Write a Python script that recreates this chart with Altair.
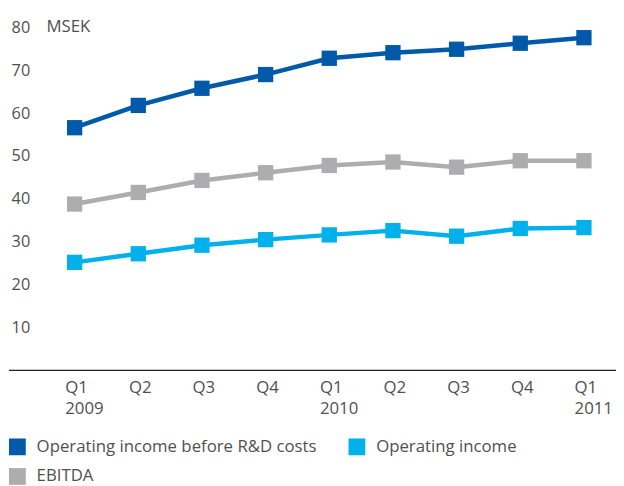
import altair as alt
import pandas as pd

periods = ["Q1 2009", "Q2 2009", "Q3 2009", "Q4 2009",
           "Q1 2010", "Q2 2010", "Q3 2010", "Q4 2010", "Q1 2011"]
op_before_rd = [56.6, 61.8, 65.8, 69.0, 72.8, 74.1, 74.9, 76.3, 77.6]
ebitda = [38.8, 41.5, 44.3, 46.1, 47.8, 48.6, 47.4, 48.9, 48.9]
op_income = [25.2, 27.2, 29.2, 30.5, 31.6, 32.6, 31.3, 33.1, 33.3]

# legend fills column-major: this order gives row 1 = R&D, Operating income; row 2 = EBITDA
series_names = ["Operating income before R&D costs", "EBITDA", "Operating income"]
series_colors = ["#0059a9", "#adadb0", "#00b1eb"]
y_ticks = [10, 20, 30, 40, 50, 60, 70, 80]

rows = []
for name, vals in zip(series_names, [op_before_rd, ebitda, op_income]):
    for p, v in zip(periods, vals):
        rows.append({"period": p, "series": name, "value": v})
df = pd.DataFrame(rows)

FONT = "Open Sans"
TXT = "#505050"
FS = 17

x_enc = alt.X(
    "period:O", sort=periods,
    scale=alt.Scale(type="point", range=[67.5, 583.5], padding=0),
    axis=alt.Axis(
        title=None, ticks=False, domain=False,
        labelAngle=0, labelAlign="left", labelOffset=-10, labelBaseline="top",
        labelPadding=9, labelFontSize=FS, labelFont=FONT, labelColor=TXT,
        labelLineHeight=22, labelOverlap=False, labelBound=False,
        labelExpr="indexof(datum.value, 'Q1') == 0 ? split(datum.value, ' ') : slice(datum.value, 0, 2)",
    ),
)
y_enc = alt.Y(
    "value:Q",
    scale=alt.Scale(domain=[0, 83.8], nice=False, zero=True),
    axis=alt.Axis(
        title=None, values=y_ticks, ticks=False, domain=False, grid=False,
        offset=-24, labelPadding=2, labelAlign="right",
        labelFontSize=16.5, labelFont=FONT, labelColor=TXT,
    ),
)
color_enc = alt.Color(
    "series:N", sort=series_names,
    scale=alt.Scale(domain=series_names, range=series_colors),
    legend=alt.Legend(
        title=None, orient="none", legendX=1, legendY=433, columns=2,
        columnPadding=32, rowPadding=12, symbolType="square", symbolSize=289,
        symbolStrokeWidth=0, labelFontSize=FS, labelFont=FONT, labelColor=TXT,
        labelOffset=11, labelLimit=400,
    ),
)

baseline = alt.Chart(pd.DataFrame({"v": [0]})).mark_rule(
    color="#222222", strokeWidth=1.5
).encode(y=alt.Y("v:Q"), x=alt.value(1), x2=alt.value(616))

lines = alt.Chart(df).mark_line(
    strokeWidth=4.5,
    point=alt.OverlayMarkDef(shape="square", size=240, filled=True, opacity=1),
).encode(x=x_enc, y=y_enc, color=color_enc)

unit = alt.Chart(pd.DataFrame({"label": ["MSEK"], "v": [80]})).mark_text(
    align="left", baseline="middle", fontSize=FS, font=FONT, color=TXT
).encode(x=alt.value(39), y=alt.Y("v:Q"), text="label:N")

chart = alt.layer(lines, baseline, unit).properties(
    width=616, height=364,
    autosize=alt.AutoSizeParams(type="none"),
    padding={"left": 0, "top": 0, "right": 0, "bottom": 114},
).configure_view(stroke=None)

chart.save("out.html", embed_options={"renderer": "svg", "actions": False})
